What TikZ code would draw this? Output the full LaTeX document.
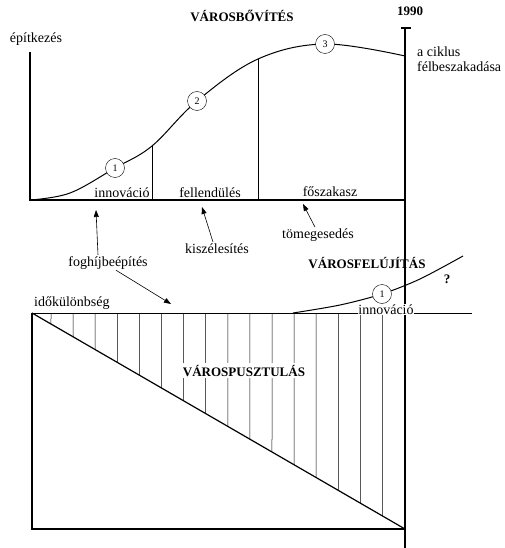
\documentclass[tikz,border=0pt]{standalone}
\usepackage{fontspec}
\setmainfont{Liberation Serif}
\usetikzlibrary{arrows.meta, calc, positioning}
\tikzset{
	numnode/.style={
			circle,
			draw=black,
			fill=white,
			minimum size=19pt,
			inner sep=0pt,
			font=\fontsize{10}{12}\selectfont
		},
	textnode/.style={
			inner sep=1pt,
			font=\fontsize{14}{16}\selectfont
		},
	boldnode/.style={
			inner sep=1pt,
			font=\fontsize{13}{15}\selectfont\bfseries
		},
	axisline/.style={
			line width=1.2pt
		},
	arrowline/.style={
			-{Triangle[length=7pt,width=5pt]},
			line width=0.6pt
		}
}

\begin{document}
\begin{tikzpicture}[x=1pt, y=-1pt]
\useasboundingbox (0,0) rectangle (505,548);

% upper diagram
\coordinate (o) at (30,200);
\coordinate (ytop) at (30,52);
\coordinate (xend) at (405,200);
\coordinate (ttop) at (405,28);
\coordinate (tbot) at (405,548);
\coordinate (tickl) at (401,28);
\coordinate (tickr) at (411,28);

\draw[axisline] (ytop) -- (o) -- (xend);
\draw[axisline] (ttop) -- (tbot);
\draw[axisline] (tickl) -- (tickr);

\draw[line width=1pt] plot[smooth, tension=0.6] coordinates
  {(30,200) (70,193) (115,168) (152,146) (197,101) (258,59) (325,44) (405,56)};
\coordinate (p1) at (152,146);
\coordinate (p2) at (258,59);
\draw[line width=0.6pt] (p1) -- (p1 |- o);
\draw[line width=0.6pt] (p2) -- (p2 |- o);

\node[numnode] (c1) at (115,168) {1};
\node[numnode] (c2) at (197,101) {2};
\node[numnode] (c3) at (325,44) {3};

\node[boldnode, anchor=base] (title1) at (242,22) {VÁROSBŐVÍTÉS};
\node[boldnode, anchor=base] (year) at (410,16) {1990};
\node[textnode, anchor=base] (epit) at (36,43) {építkezés};
\node[textnode, anchor=base west] (cikl1) at (416,57) {a ciklus};
\node[textnode, anchor=base west] (cikl2) at (416,72) {félbeszakadása};

\node[textnode, anchor=base] (innov) at (122,197) {innováció};
\node[textnode, anchor=base] (fell) at (210,197) {fellendülés};
\node[textnode, anchor=base] (fosz) at (330,196) {főszakasz};

% arrows
\node[textnode, anchor=base] (foghij) at (108,266) {foghíjbeépítés};
\node[textnode, anchor=base] (kisz) at (217,253) {kiszélesítés};
\node[textnode, anchor=base] (tomeg) at (318,238) {tömegesedés};

\coordinate (a1) at (96,210);
\coordinate (a2) at (202,207);
\coordinate (a3) at (303,204);
\coordinate (a4) at (171,304);
\draw[arrowline] ([xshift=-10pt]foghij.north) -- (a1);
\draw[arrowline] ([xshift=-4pt]kisz.north) -- (a2);
\draw[arrowline] ([xshift=-3pt]tomeg.north) -- (a3);
\draw[arrowline] ([xshift=8pt]foghij.south) -- (a4);

% lower diagram
\coordinate (tl) at (32,313);
\coordinate (bl) at (32,529);
\coordinate (br) at (405,529);
\coordinate (topend) at (472,313);

\foreach \k in {0,...,15} {
  \pgfmathsetmacro\hx{51+22.1*\k}
  \draw[line width=0.5pt] (\hx,313) -- ($(tl)!{(\hx-32)/373}!(br)$);
}
\draw[line width=0.8pt] (tl) -- (topend);
\draw[axisline] (tl) -- (bl) -- (br);
\draw[axisline] (tl) -- (br);

\node[textnode, anchor=base west] (idok) at (33,306) {időkülönbség};
\node[boldnode, anchor=base, fill=white, inner sep=2pt] (pusz) at (244,376) {VÁROSPUSZTULÁS};

\draw[line width=1pt] plot[smooth] coordinates
  {(293,313) (340,305) (382,294) (420,279) (463,256)};
\node[numnode] (r1) at (382,294) {1};
\node[textnode, anchor=base, fill=white, inner sep=0.5pt] (innov2) at (386,314) {innováció};
\node[boldnode, anchor=base] (felu) at (367,268) {VÁROSFELÚJÍTÁS};
\node[boldnode, anchor=base] (kerd) at (447,283) {?};

\end{tikzpicture}
\end{document}
